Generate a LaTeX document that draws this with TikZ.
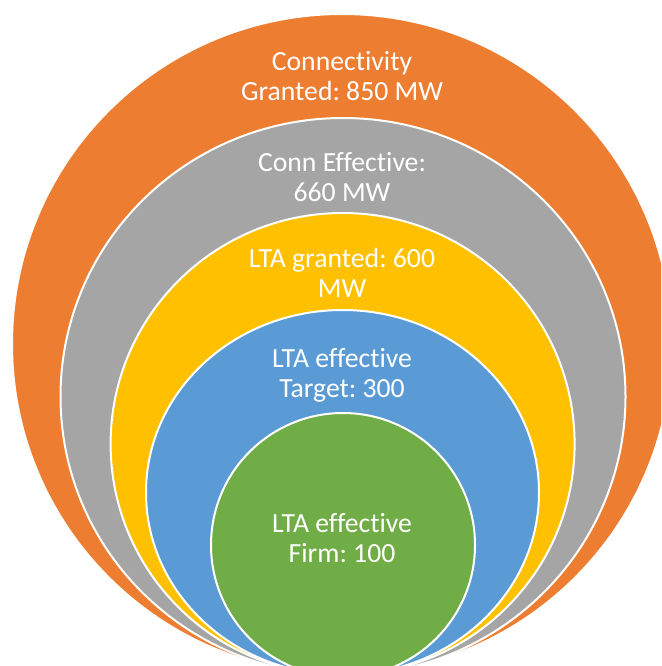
\documentclass[tikz,border=0pt]{standalone}
\usepackage{fontspec}
\setmainfont{Carlito}[Ligatures=NoCommon]
\usepackage{tikz}
\definecolor{orng}{HTML}{ED7D31}
\definecolor{grey}{HTML}{A5A5A5}
\definecolor{gold}{HTML}{FFC000}
\definecolor{sky}{HTML}{5B9BD5}
\definecolor{leaf}{HTML}{70AD47}
\frenchspacing

\begin{document}
\begin{tikzpicture}[x=1pt,y=-1pt,
  every node/.style={font=\fontsize{27.7}{30}\selectfont,align=center,
                     text=white,anchor=base},
  ring/.style={draw=white,line width=2pt}
]
\useasboundingbox (0,0) rectangle (661,666);
\clip (0,0) rectangle (661,666);
\fill[white] (0,0) rectangle (661,666);

\filldraw[ring,fill=orng] (342,344) ellipse [x radius=330pt,y radius=330pt];
\filldraw[ring,fill=grey] (343,396.5) ellipse [x radius=282.5pt,y radius=278.5pt];
\filldraw[ring,fill=gold] (342.6,444) ellipse [x radius=232pt,y radius=231pt];
\filldraw[ring,fill=sky] (342.5,492.5) ellipse [x radius=196.5pt,y radius=182.5pt];
\filldraw[ring,fill=leaf] (343,545) ellipse [x radius=132pt,y radius=132pt];

% anchor=base sits on the last line
\node (granted) at (342,101) {Connectivity\\Granted: 850 MW};
\node (conneff) at (342,201) {Conn Effective:\\660 MW};
\node (ltagrant) at (342,297) {LTA granted: 600\\MW};
\node (ltatarget) at (342,397) {LTA effective\\Target: 300};
\node (ltafirm) at (342,562) {LTA effective\\Firm: 100};
\end{tikzpicture}
\end{document}
